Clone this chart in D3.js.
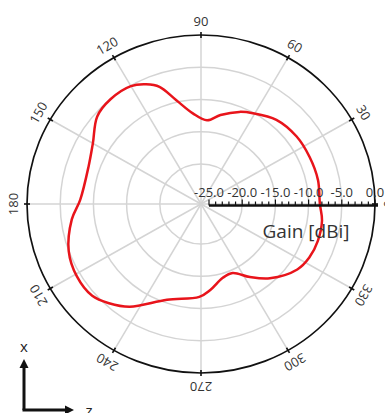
<!DOCTYPE html>
<html><head><meta charset="utf-8">
<script src="https://cdn.jsdelivr.net/npm/d3@7"></script>
<style>html,body{margin:0;padding:0;background:#fff;}svg{display:block;}</style>
</head><body>
<script>
// Data
const angles = [0,12,24,36,49,61,68,78,86,95,103,109,114,120,130,139,150,161,178,187,200,211,221,228,236,251,269,276,286,294,303,312,325,333,342,352];
const gains  = [-8.3,-8.2,-8.3,-8.4,-8.9,-10.1,-10.8,-12.1,-13.2,-12.1,-9.7,-7.0,-5.9,-5.1,-5.0,-5.5,-7.4,-8.3,-8.0,-6.6,-5.0,-4.4,-4.5,-5.5,-7.0,-10.5,-11.8,-12.8,-14.3,-14.5,-12.7,-10.7,-8.5,-7.9,-7.7,-7.8];
const angleTicks = [0,30,60,90,120,150,180,210,240,270,300,330];
const gainTicks = [-25,-20,-15,-10,-5,0];
const gainMinor = d3.range(-25,1,1);
const gainGrid = [-20,-15,-10,-5];
const radialLabel = "Gain [dBi]";

const W=385,H=413, cx=201, cy=204, rx=174, ry=169;
const svg=d3.select("body").append("svg").attr("width",W).attr("height",H);
const r = d3.scaleLinear().domain([-25,0]).range([8/174,1]);
const rad = d=>d*Math.PI/180;
const px=(a,f)=>cx+rx*f*Math.cos(rad(a));
const py=(a,f)=>cy-ry*f*Math.sin(rad(a));

// grid circles
svg.selectAll("ellipse.grid").data(gainGrid).join("ellipse")
  .attr("cx",cx).attr("cy",cy).attr("rx",d=>rx*r(d)).attr("ry",d=>ry*r(d))
  .attr("fill","none").attr("stroke","#d4d4d4").attr("stroke-width",1.5);
// radial lines
svg.selectAll("line.spoke").data(angleTicks).join("line")
  .attr("x1",cx).attr("y1",cy).attr("x2",d=>px(d,1)).attr("y2",d=>py(d,1))
  .attr("stroke","#d4d4d4").attr("stroke-width",1.5);

// curve
const line=d3.line().x(d=>px(d[0],r(d[1]))).y(d=>py(d[0],r(d[1]))).curve(d3.curveCatmullRomClosed.alpha(0.5));
svg.append("path").datum(angles.map((a,i)=>[a,gains[i]])).attr("d",line)
  .attr("fill","none").attr("stroke","#e8141b").attr("stroke-width",2.5);

// outer ellipse
svg.append("ellipse").attr("cx",cx).attr("cy",cy).attr("rx",rx).attr("ry",ry)
  .attr("fill","none").attr("stroke","#111").attr("stroke-width",1.7);
// angle ticks
svg.selectAll("line.at").data(angleTicks).join("line")
  .attr("x1",d=>cx+(rx-3)*Math.cos(rad(d))).attr("y1",d=>cy-(ry-3)*Math.sin(rad(d)))
  .attr("x2",d=>cx+(rx+3)*Math.cos(rad(d))).attr("y2",d=>cy-(ry+3)*Math.sin(rad(d)))
  .attr("stroke","#111").attr("stroke-width",1.6);
// angle labels
svg.selectAll("text.al").data(angleTicks).join("text")
  .attr("transform",d=>`translate(${cx+(rx+14)*Math.cos(rad(d))},${cy-(ry+14)*Math.sin(rad(d))}) rotate(${90-d})`)
  .attr("text-anchor","middle").attr("dominant-baseline","central")
  .attr("font-family","Open Sans, sans-serif").attr("font-size",13).attr("fill","#333")
  .text(d=>d);

// radial axis bar
const ax = d3.scaleLinear().domain([-25,0]).range([cx+rx*r(-25), cx+rx]);
const ay = 205.5;
svg.append("line").attr("x1",ax(-25)).attr("x2",ax(0)+3).attr("y1",ay).attr("y2",ay)
  .attr("stroke","#111").attr("stroke-width",2.5);
svg.selectAll("line.mt").data(gainMinor).join("line")
  .attr("x1",d=>ax(d)).attr("x2",d=>ax(d)).attr("y1",ay).attr("y2",d=>ay-(d%5===0?6:4))
  .attr("stroke","#111").attr("stroke-width",1.2);
svg.selectAll("text.gt").data(gainTicks).join("text")
  .attr("x",d=>ax(d)).attr("y",197)
  .attr("text-anchor","middle").attr("font-family","Open Sans, sans-serif").attr("font-size",13).attr("fill","#333")
  .text(d=>d.toFixed(1));
svg.append("text").attr("x",306).attr("y",238).attr("text-anchor","middle")
  .attr("font-family","Open Sans, sans-serif").attr("font-size",19).attr("fill","#333").text(radialLabel);

// axis indicator
const g=svg.append("g").attr("stroke","#111").attr("fill","#111");
g.append("line").attr("x1",24).attr("y1",410).attr("x2",24).attr("y2",367).attr("stroke-width",3);
g.append("path").attr("d","M24,359 L19.5,368 L28.5,368 Z").attr("stroke","none");
g.append("line").attr("x1",22.5).attr("y1",410).attr("x2",66).attr("y2",410).attr("stroke-width",3);
g.append("path").attr("d","M74,410 L65,405.5 L65,414.5 Z").attr("stroke","none");
svg.append("text").attr("x",24).attr("y",352).attr("text-anchor","middle").attr("font-family","Open Sans, sans-serif").attr("font-size",15).attr("fill","#222").text("x");
svg.append("text").attr("x",89).attr("y",416).attr("text-anchor","middle").attr("font-family","Open Sans, sans-serif").attr("font-size",15).attr("fill","#222").text("z");
</script>
</body></html>
